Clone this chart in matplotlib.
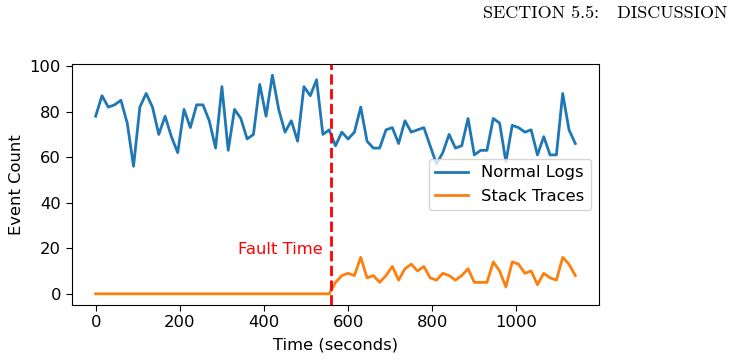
import numpy as np
import matplotlib
matplotlib.use("Agg")
import matplotlib.pyplot as plt

# time axis, one sample every 15 s
time_s = np.arange(0, 1141, 15)

normal_logs = [78, 87, 82, 83, 85, 75, 56, 82, 88, 82, 70, 78, 69, 62, 81, 73,
               83, 83, 76, 64, 91, 63, 81, 77, 68, 70, 92, 78, 96, 81, 71, 76,
               67, 91, 87, 94, 70, 72, 65, 71, 68, 71, 82, 67, 64, 64, 72, 73,
               66, 76, 71, 72, 73, 65, 57, 62, 70, 64, 65, 77, 61, 63, 63, 77,
               75, 58, 74, 73, 71, 72, 61, 69, 61, 61, 88, 72, 66]

stack_traces = [0] * 38 + [5, 8, 9, 8, 16, 7, 8, 5, 8, 12, 6, 11, 13, 10, 12,
                           7, 6, 9, 8, 6, 8, 11, 5, 5, 5, 14, 10, 3, 14, 13, 9,
                           10, 4, 9, 7, 6, 16, 13, 8]

fault_time = 560

plt.rcParams["font.size"] = 11.8
plt.rcParams["xtick.major.size"] = 4.2
plt.rcParams["ytick.major.size"] = 4.2

fig = plt.figure(figsize=(7.33, 3.6), dpi=100)
ax = fig.add_axes([0.0978, 0.1536, 0.7198, 0.6678])

ax.plot(time_s, normal_logs, color="#1f77b4", lw=2, label="Normal Logs")
ax.plot(time_s, stack_traces, color="#ff7f0e", lw=2, label="Stack Traces")
ax.axvline(fault_time, color="red", ls="--", lw=2)
ax.text(fault_time - 20, 19.5, "Fault Time", color="red",
        ha="right", va="center")

ax.set_xlabel("Time (seconds)", labelpad=5)
ax.set_ylabel("Event Count")
ax.legend(loc="center right")

fig.text(0.992, 0.962, "SECTION 5.5:   DISCUSSION", family="cmr10",
         ha="right", va="center", fontsize=13)

fig.savefig("out.png", dpi=100)
